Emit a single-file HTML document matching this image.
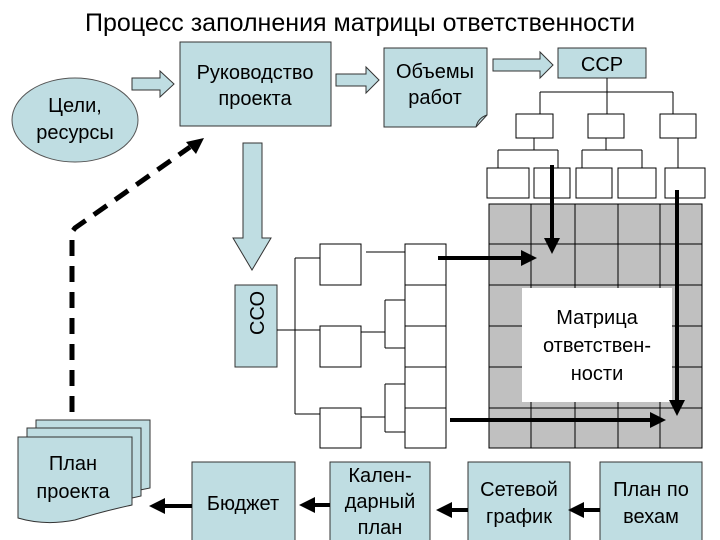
<!DOCTYPE html>
<html><head><meta charset="utf-8"><style>
html,body{margin:0;padding:0;background:#fff;}
svg{display:block;font-family:"Liberation Sans",sans-serif;}
</style></head><body>
<svg width="720" height="540" viewBox="0 0 720 540" xmlns="http://www.w3.org/2000/svg">
<defs>
<marker id="ah" markerWidth="4" markerHeight="4" refX="3" refY="2" orient="auto" markerUnits="strokeWidth"><path d="M0,0 L4,2 L0,4 z" fill="#000"/></marker>
</defs>
<text x="360" y="31" font-size="25" text-anchor="middle">Процесс заполнения матрицы ответственности</text>

<!-- ellipse -->
<ellipse cx="75" cy="120" rx="63" ry="42" fill="#bfdde2" stroke="#555" stroke-width="1"/>
<text x="75" y="112" font-size="20" text-anchor="middle">Цели,</text>
<text x="75" y="139" font-size="20" text-anchor="middle">ресурсы</text>

<!-- hollow arrows -->
<path d="M132,78 H160 V71 L174,84 L160,97 V90 H132 Z" fill="#bfdde2" stroke="#333"/>
<path d="M336,74 H366 V67 L379,80 L366,93 V86 H336 Z" fill="#bfdde2" stroke="#333"/>
<path d="M493,59 H540 V52 L553,65 L540,78 V71 H493 Z" fill="#bfdde2" stroke="#333"/>

<!-- Руководство -->
<rect x="180" y="42" width="151" height="84" fill="#bfdde2" stroke="#333"/>
<text x="255" y="79" font-size="20" text-anchor="middle">Руководство</text>
<text x="255" y="105" font-size="20" text-anchor="middle">проекта</text>

<!-- Объемы -->
<path d="M384,48 H487 V115 L476,127 H384 Z" fill="#bfdde2" stroke="#333"/>
<path d="M476,127 Q478,118 487,115" fill="none" stroke="#333"/>
<text x="435" y="78" font-size="20" text-anchor="middle">Объемы</text>
<text x="435" y="104" font-size="20" text-anchor="middle">работ</text>

<!-- ССР -->
<rect x="558" y="48" width="88" height="30" fill="#bfdde2" stroke="#333"/>
<text x="602" y="71" font-size="20" text-anchor="middle">ССР</text>
<g stroke="#000" stroke-width="1" fill="#fff">
<line x1="607" y1="78" x2="607" y2="92"/>
<line x1="540" y1="92" x2="673" y2="92"/>
<line x1="540" y1="92" x2="540" y2="114"/>
<line x1="607" y1="92" x2="607" y2="114"/>
<line x1="673" y1="92" x2="673" y2="114"/>
<rect x="516" y="114" width="37" height="24"/>
<rect x="588" y="114" width="36" height="24"/>
<rect x="660" y="114" width="36" height="24"/>
<line x1="534" y1="138" x2="534" y2="150"/>
<line x1="498" y1="150" x2="558" y2="150"/>
<line x1="498" y1="150" x2="498" y2="168"/>
<line x1="558" y1="150" x2="558" y2="168"/>
<line x1="606" y1="138" x2="606" y2="150"/>
<line x1="582" y1="150" x2="642" y2="150"/>
<line x1="582" y1="150" x2="582" y2="168"/>
<line x1="642" y1="150" x2="642" y2="168"/>
<line x1="678" y1="138" x2="678" y2="168"/>
<rect x="487" y="168" width="42" height="30"/>
<rect x="534" y="168" width="36" height="30"/>
<rect x="576" y="168" width="36" height="30"/>
<rect x="618" y="168" width="38" height="30"/>
<rect x="665" y="168" width="40" height="30"/>
</g>

<!-- matrix -->
<rect x="489" y="204" width="213" height="244" fill="#c0c0c0" stroke="#000"/>
<g stroke="#000" stroke-width="1">
<line x1="531" y1="204" x2="531" y2="448"/>
<line x1="575" y1="204" x2="575" y2="448"/>
<line x1="618" y1="204" x2="618" y2="448"/>
<line x1="660" y1="204" x2="660" y2="448"/>
<line x1="489" y1="244" x2="702" y2="244"/>
<line x1="489" y1="285" x2="702" y2="285"/>
<line x1="489" y1="326" x2="702" y2="326"/>
<line x1="489" y1="367" x2="702" y2="367"/>
<line x1="489" y1="408" x2="702" y2="408"/>
</g>
<rect x="522" y="288" width="150" height="114" fill="#fff"/>
<text x="597" y="324" font-size="20" text-anchor="middle">Матрица</text>
<text x="597" y="352" font-size="20" text-anchor="middle">ответствен-</text>
<text x="597" y="380" font-size="20" text-anchor="middle">ности</text>

<!-- down arrow to CCO -->
<path d="M243,143 H262 V238 H271 L252,270 L233,238 H243 Z" fill="#bfdde2" stroke="#333"/>
<rect x="235" y="285" width="42" height="82" fill="#bfdde2" stroke="#333"/>
<text transform="translate(264,313) rotate(-90)" font-size="20" text-anchor="middle">ССО</text>

<!-- left tree -->
<g stroke="#000" stroke-width="1" fill="#fff">
<line x1="277" y1="330" x2="295" y2="330"/>
<line x1="295" y1="258" x2="295" y2="414"/>
<line x1="295" y1="258" x2="320" y2="258"/>
<line x1="295" y1="330" x2="320" y2="330"/>
<line x1="295" y1="414" x2="320" y2="414"/>
<rect x="320" y="244" width="41" height="41"/>
<rect x="320" y="326" width="41" height="41"/>
<rect x="320" y="408" width="41" height="40"/>
<line x1="366" y1="252" x2="405" y2="252"/>
<line x1="361" y1="332" x2="385" y2="332"/>
<line x1="385" y1="300" x2="385" y2="348"/>
<line x1="385" y1="300" x2="405" y2="300"/>
<line x1="385" y1="348" x2="405" y2="348"/>
<line x1="361" y1="417" x2="385" y2="417"/>
<line x1="385" y1="384" x2="385" y2="432"/>
<line x1="385" y1="384" x2="405" y2="384"/>
<line x1="385" y1="432" x2="405" y2="432"/>
<rect x="405" y="244" width="41" height="204"/>
<line x1="405" y1="285" x2="446" y2="285"/>
<line x1="405" y1="326" x2="446" y2="326"/>
<line x1="405" y1="367" x2="446" y2="367"/>
<line x1="405" y1="408" x2="446" y2="408"/>
</g>

<!-- thick arrows -->
<g stroke="#000" stroke-width="4" fill="none">
<line x1="438" y1="258" x2="533" y2="258" marker-end="url(#ah)"/>
<line x1="450" y1="420" x2="662" y2="420" marker-end="url(#ah)"/>
<line x1="552" y1="165" x2="552" y2="250" marker-end="url(#ah)"/>
<line x1="677" y1="190" x2="677" y2="412" marker-end="url(#ah)"/>
</g>

<!-- dashed -->
<path d="M72,412 V232 L75,228 L190,147" fill="none" stroke="#000" stroke-width="5" stroke-dasharray="16,10"/>
<path d="M204,138 L186,142 L196,154 Z" fill="#000"/>

<!-- plan project doc stack -->
<path d="M36,420 H150 V488 L140,490 V437 H36 Z" fill="#bfdde2" stroke="#333"/>
<path d="M27,428 H141 V496 L132,498 V437 H27 Z" fill="#bfdde2" stroke="#333"/>
<path d="M18,437 H132 V505 Q100,512 75,520 Q45,526 18,518 Z" fill="#bfdde2" stroke="#333"/>
<text x="73" y="470" font-size="20" text-anchor="middle">План</text>
<text x="73" y="498" font-size="20" text-anchor="middle">проекта</text>

<!-- bottom row -->
<rect x="192" y="462" width="103" height="80" fill="#bfdde2" stroke="#333"/>
<text x="243" y="510" font-size="20" text-anchor="middle">Бюджет</text>
<rect x="330" y="462" width="100" height="80" fill="#bfdde2" stroke="#333"/>
<text x="380" y="482" font-size="20" text-anchor="middle">Кален-</text>
<text x="380" y="508" font-size="20" text-anchor="middle">дарный</text>
<text x="380" y="534" font-size="20" text-anchor="middle">план</text>
<rect x="468" y="462" width="102" height="80" fill="#bfdde2" stroke="#333"/>
<text x="519" y="496" font-size="20" text-anchor="middle">Сетевой</text>
<text x="519" y="523" font-size="20" text-anchor="middle">график</text>
<rect x="600" y="462" width="102" height="80" fill="#bfdde2" stroke="#333"/>
<text x="651" y="496" font-size="20" text-anchor="middle">План по</text>
<text x="651" y="523" font-size="20" text-anchor="middle">вехам</text>
<g stroke="#000" stroke-width="4" fill="none">
<line x1="192" y1="506" x2="153" y2="506" marker-end="url(#ah)"/>
<line x1="330" y1="505" x2="303" y2="505" marker-end="url(#ah)"/>
<line x1="468" y1="510" x2="440" y2="510" marker-end="url(#ah)"/>
<line x1="600" y1="510" x2="572" y2="510" marker-end="url(#ah)"/>
</g>
</svg>
</body></html>
